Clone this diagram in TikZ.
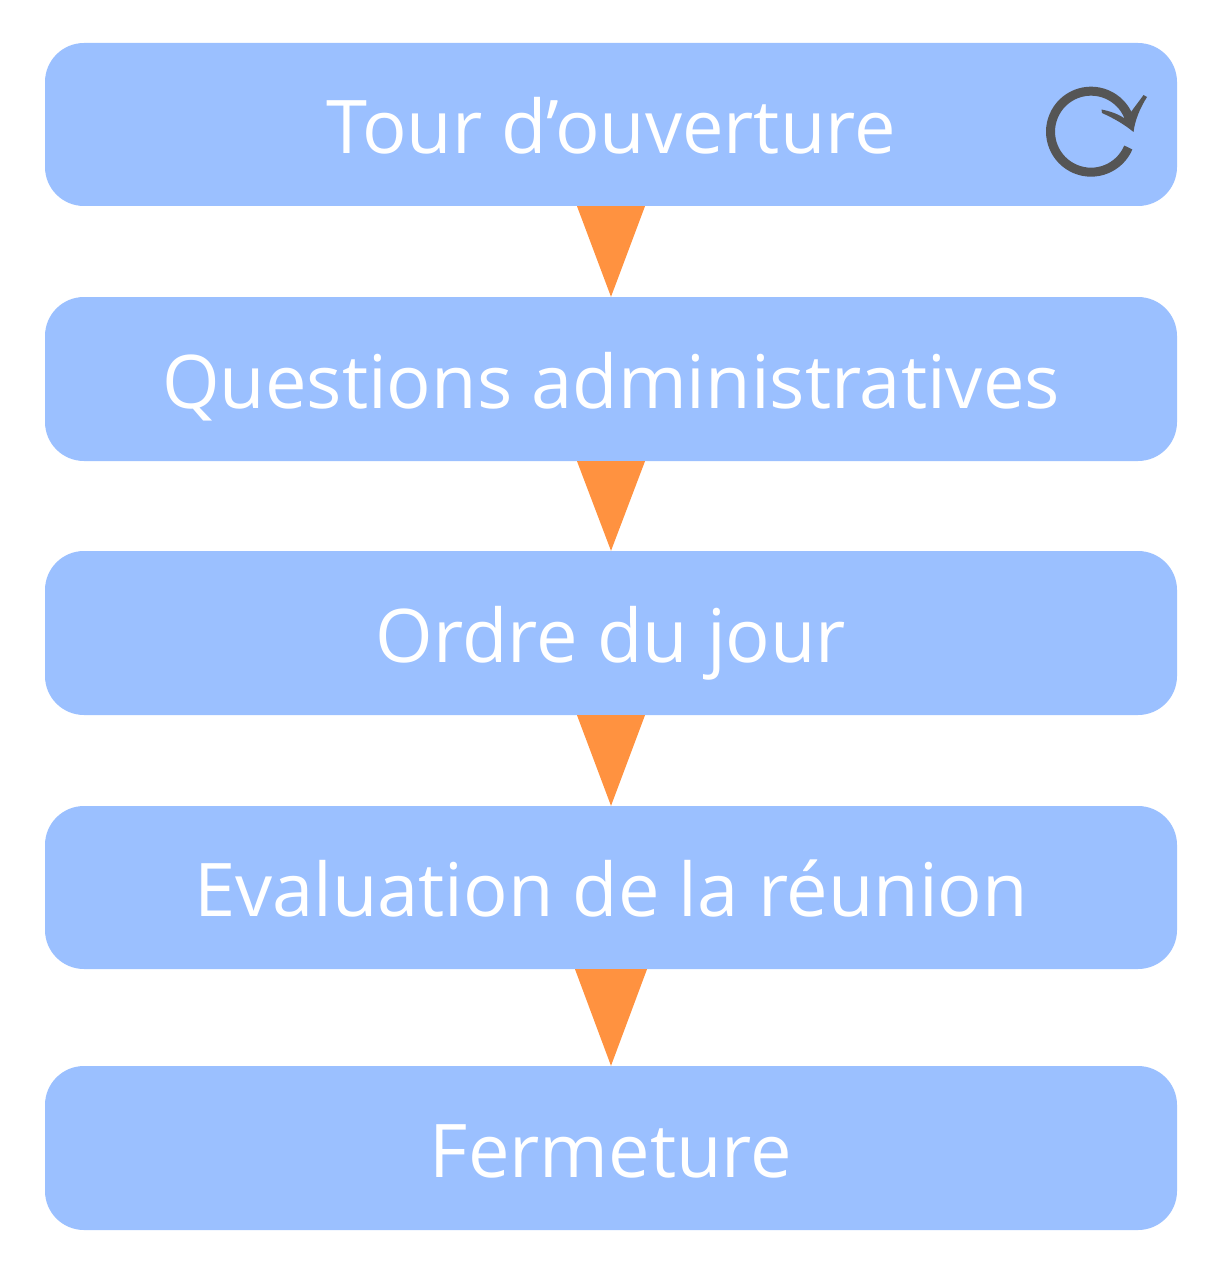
\documentclass[tikz,border=0pt]{standalone}
\usepackage{fontspec}
\setmainfont{Open Sans}
\definecolor{boxblue}{RGB}{155,192,255}
\definecolor{tiporange}{RGB}{255,146,64}
\definecolor{loopgray}{RGB}{85,85,85}
\tikzset{
  stage/.style={fill=boxblue,rounded corners=39pt,minimum width=1132pt,inner sep=0pt,text=white,
    text height=58pt,text depth=0pt,font=\fontsize{74}{74}\selectfont},
  wedge/.style={fill=tiporange}
}
\begin{document}
\begin{tikzpicture}[x=1pt,y=-1pt]
      \useasboundingbox (0,0) rectangle (1215,1273) ;
      \node[stage,minimum height=163pt] (tour) at (611,124.5) {Tour d’ouverture} ;
      \node[stage,minimum height=164pt] (questions) at (611,379) {Questions administratives} ;
      \node[stage,minimum height=164pt] (ordre) at (611,633) {Ordre du jour} ;
      \node[stage,minimum height=163pt] (evaluation) at (611,887.5) {Evaluation de la réunion} ;
      \node[stage,minimum height=164pt] (fermeture) at (611,1148) {Fermeture} ;
      \fill[wedge] (tour.south) ++(-34,0) -- ++(68,0) -- (questions.north) -- cycle ;
      \fill[wedge] (questions.south) ++(-34,0) -- ++(68,0) -- (ordre.north) -- cycle ;
      \fill[wedge] (ordre.south) ++(-34,0) -- ++(68,0) -- (evaluation.north) -- cycle ;
      \fill[wedge] (evaluation.south) ++(-36,0) -- ++(72,0) -- (fermeture.north) -- cycle ;
      \draw[loopgray,line width=9pt] (1128.3,147.5) arc (23:338:40.5) ;
      \fill[loopgray] (1143.5,95) -- (1147,97) .. controls (1140,108) and (1135,120) .. (1133.5,132)
        .. controls (1124,124) and (1113,118) .. (1102,113) -- (1101.5,109.5)
        .. controls (1109,111) and (1116,113) .. (1124,118) -- (1131,112)
        .. controls (1136,105) and (1140,100) .. (1143.5,95) -- cycle ;
    \end{tikzpicture}
\end{document}
